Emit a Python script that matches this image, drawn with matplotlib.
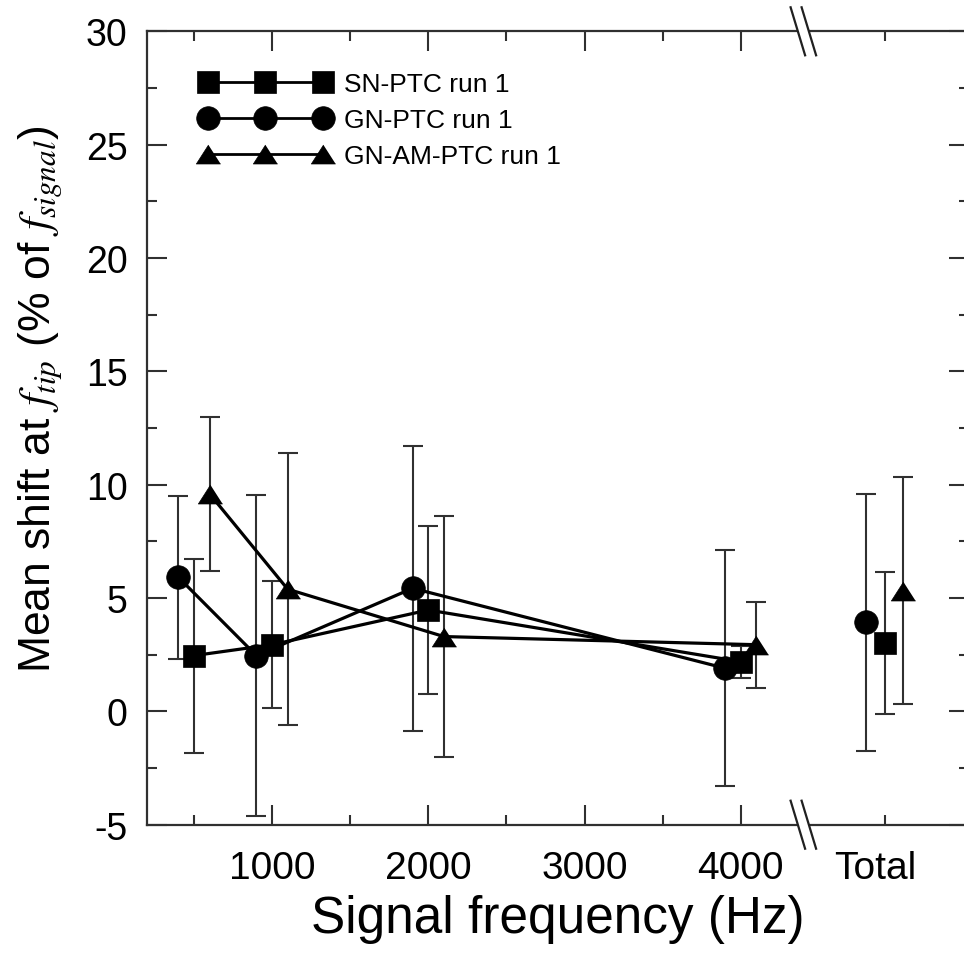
"""
Mean shift at f_tip vs signal frequency, three PTC conditions (run 1)
"""

import matplotlib
matplotlib.use("Agg")
import matplotlib.pyplot as plt
from matplotlib.lines import Line2D
from matplotlib.patches import Polygon
from matplotlib.ticker import FixedLocator, NullFormatter

plt.rcParams["font.family"] = ["Liberation Sans", "DejaVu Sans"]
plt.rcParams["mathtext.fontset"] = "stix"
plt.rcParams["axes.unicode_minus"] = False

# Signal frequencies (Hz) and where the "Total" column sits on the x axis
freqs = [500, 1000, 2000, 4000]
total_x = 4920
break_x = 4400

# SN-PTC run 1 (squares)
sn_mean = [2.46, 2.94, 4.47, 2.19]
sn_sd = [4.28, 2.80, 3.70, 0.70]
sn_total = 3.02
sn_total_sd = 3.13

# GN-PTC run 1 (circles)
gn_mean = [5.92, 2.46, 5.43, 1.90]
gn_sd = [3.60, 7.07, 6.28, 5.20]
gn_total = 3.93
gn_total_sd = 5.66

# GN-AM-PTC run 1 (triangles)
am_mean = [9.60, 5.39, 3.30, 2.94]
am_sd = [3.40, 6.00, 5.30, 1.90]
am_total = 5.32
am_total_sd = 5.00

labels = ["SN-PTC run 1", "GN-PTC run 1", "GN-AM-PTC run 1"]

# flattened triangle like the original
tri = [(0, 0.78), (-1, -0.78), (1, -0.78)]

W, H = 964, 954
fig = plt.figure(figsize=(W / 100, H / 100), dpi=100)
ax = fig.add_axes([147 / W, 1 - 825.7 / H, (969 - 147) / W, (825.7 - 32.3) / H])

series = [
    (sn_mean, sn_sd, sn_total, sn_total_sd, "s", 0, 0, 16.5),
    (gn_mean, gn_sd, gn_total, gn_total_sd, "o", -100, -120, 17.0),
    (am_mean, am_sd, am_total, am_total_sd, tri, 100, 120, 17.5),
]

handles = []
for mean, sd, tot, tot_sd, mk, off, toff, ms in series:
    xs = [f + off for f in freqs]
    ax.errorbar(xs, mean, yerr=sd, fmt="none", ecolor="#303030", elinewidth=1.5,
                capsize=7.5, capthick=1.5, zorder=2)
    ax.errorbar([total_x + toff], [tot], yerr=[tot_sd], fmt="none", ecolor="#303030",
                elinewidth=1.5, capsize=7.5, capthick=1.5, zorder=2)
    ax.plot(xs, mean, color="black", lw=2.3, marker=mk, ms=ms, mew=0.5, zorder=3)
    ax.plot([total_x + toff], [tot], ls="none", color="black", marker=mk, ms=ms, mew=0.5, zorder=3)
    handles.append(Line2D([0], [0], color="black", lw=2.0, marker=mk, ms=ms, mew=0.5))

ax.set_xlim(200, 5460)
ax.set_ylim(-5, 30)

ax.xaxis.set_major_locator(FixedLocator([1000, 2000, 3000, 4000]))
ax.xaxis.set_minor_locator(FixedLocator([500, 1500, 2500, 3500, total_x]))
ax.xaxis.set_minor_formatter(NullFormatter())
ax.yaxis.set_major_locator(FixedLocator(list(range(-5, 31, 5))))
ax.yaxis.set_minor_locator(FixedLocator([-2.5 + 5 * k for k in range(7)]))

for s in ax.spines.values():
    s.set_color("#303030")
    s.set_linewidth(1.6)

ax.tick_params(which="both", direction="in", top=True, right=True, color="#303030", width=1.5)
ax.tick_params(which="major", length=14.4)
ax.tick_params(which="minor", length=7.2)
ax.tick_params(axis="y", which="both", labelsize=27, pad=14)
ax.tick_params(axis="x", which="both", labelsize=28, pad=18)

# "Total" label sits a little left of its tick in the original
ax.annotate("Total", xy=(total_x, 0), xycoords=("data", "axes fraction"),
            xytext=(-7, -18), textcoords="offset points", ha="center", va="top",
            fontsize=28)

ax.set_xlabel("Signal frequency (Hz)", fontsize=37, labelpad=6)
ax.set_ylabel(r"Mean shift at $f_{tip}$ (% of $f_{signal}$)", fontsize=32)
ax.yaxis.set_label_coords(-0.101, 0.537)

ax.legend(handles, labels, loc="upper left", bbox_to_anchor=(200 / W, 1 - 73 / H),
          bbox_transform=fig.transFigure, frameon=False, fontsize=19, numpoints=3,
          handlelength=4.96, handletextpad=0.5, labelspacing=0.45, borderpad=0,
          borderaxespad=0)

# axis-break marks on top and bottom spines
fig.canvas.draw()
bx = ax.transData.transform((break_x, 0))[0]
y_bot = ax.transAxes.transform((0, 0))[1]
y_top = ax.transAxes.transform((0, 1))[1]
dx, dy, gap = 7.25, 24, 11
for yc in (y_bot, y_top):
    c1, c2 = bx - gap / 2, bx + gap / 2
    quad = [(c1 - dx * 0.25, yc + dy * 0.25), (c2 - dx * 0.25, yc + dy * 0.25),
            (c2 + dx * 0.25, yc - dy * 0.25), (c1 + dx * 0.25, yc - dy * 0.25)]
    fig.add_artist(Polygon([(px / W, py / H) for px, py in quad], closed=True,
                           facecolor="white", edgecolor="none", zorder=5))
    for c in (c1, c2):
        fig.add_artist(Line2D([(c - dx) / W, (c + dx) / W], [(yc + dy) / H, (yc - dy) / H],
                              color="#202020", lw=1.6, zorder=6))

fig.savefig("out.png", dpi=100)
